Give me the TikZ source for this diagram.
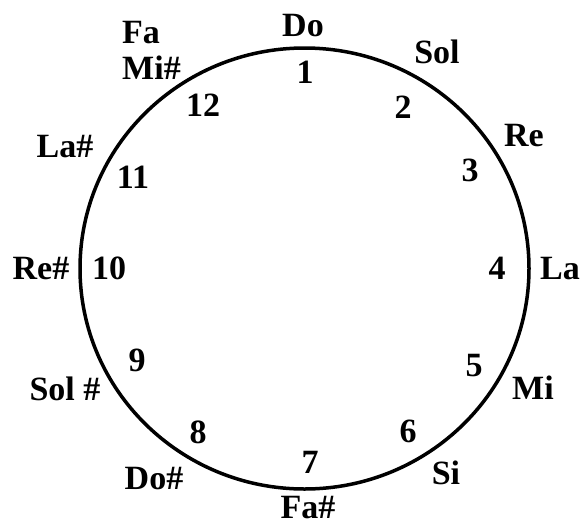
\documentclass[tikz,border=0pt]{standalone}
\usepackage{fontspec}
\setmainfont{Liberation Serif}
\usepackage{tikz}

\begin{document}
\begin{tikzpicture}[
x=1pt,
y=-1pt,
note/.style={
inner sep=0pt,
text height=22pt,
text depth=0pt,
font=\bfseries\fontsize{34}{36}\selectfont
},
num/.style={
note
},
ring/.style={
line width=3.5pt
}
]

\useasboundingbox (0,0) rectangle (580,525);

%%%%%%%%%%%%%%%%%%%%%%%%%%%%%%%%%%%%%%%%%%%%%
% Circle
%%%%%%%%%%%%%%%%%%%%%%%%%%%%%%%%%%%%%%%%%%%%%

\draw[ring] (304.5,268.5) ellipse [x radius=224.5, y radius=220.5];

%%%%%%%%%%%%%%%%%%%%%%%%%%%%%%%%%%%%%%%%%%%%%
% Numbers
%%%%%%%%%%%%%%%%%%%%%%%%%%%%%%%%%%%%%%%%%%%%%

\node[num] (n1) at (305,72) {1};
\node[num] (n2) at (403,107) {2};
\node[num] (n3) at (470,170) {3};
\node[num] (n4) at (497,268) {4};
\node[num] (n5) at (474,365) {5};
\node[num] (n6) at (408,431) {6};
\node[num] (n7) at (310,462) {7};
\node[num] (n8) at (198,432) {8};
\node[num] (n9) at (137,360) {9};
\node[num] (n10) at (109,268) {10};
\node[num] (n11) at (133,177) {11};
\node[num] (n12) at (203,105) {12};

%%%%%%%%%%%%%%%%%%%%%%%%%%%%%%%%%%%%%%%%%%%%%
% Notes
%%%%%%%%%%%%%%%%%%%%%%%%%%%%%%%%%%%%%%%%%%%%%

\node[note] (do) at (303,25) {Do};
\node[note] (sol) at (437,52) {Sol};
\node[note] (re) at (524,135) {Re};
\node[note] (la) at (560,268) {La};
\node[note] (mi) at (533,388) {Mi};
\node[note] (si) at (446,473) {Si};
\node[note] (fasharp) at (308,507) {Fa\#};
\node[note] (dosharp) at (154,478) {Do\#};
\node[note] (solsharp) at (65,389) {Sol \#};
\node[note] (resharp) at (41,268) {Re\#};
\node[note] (lasharp) at (65,146) {La\#};
\node[note, anchor=west] (misharp) at (122,68) {Mi\#};
\node[note, anchor=west] (fa) at (122,32) {Fa};

\end{tikzpicture}
\end{document}
